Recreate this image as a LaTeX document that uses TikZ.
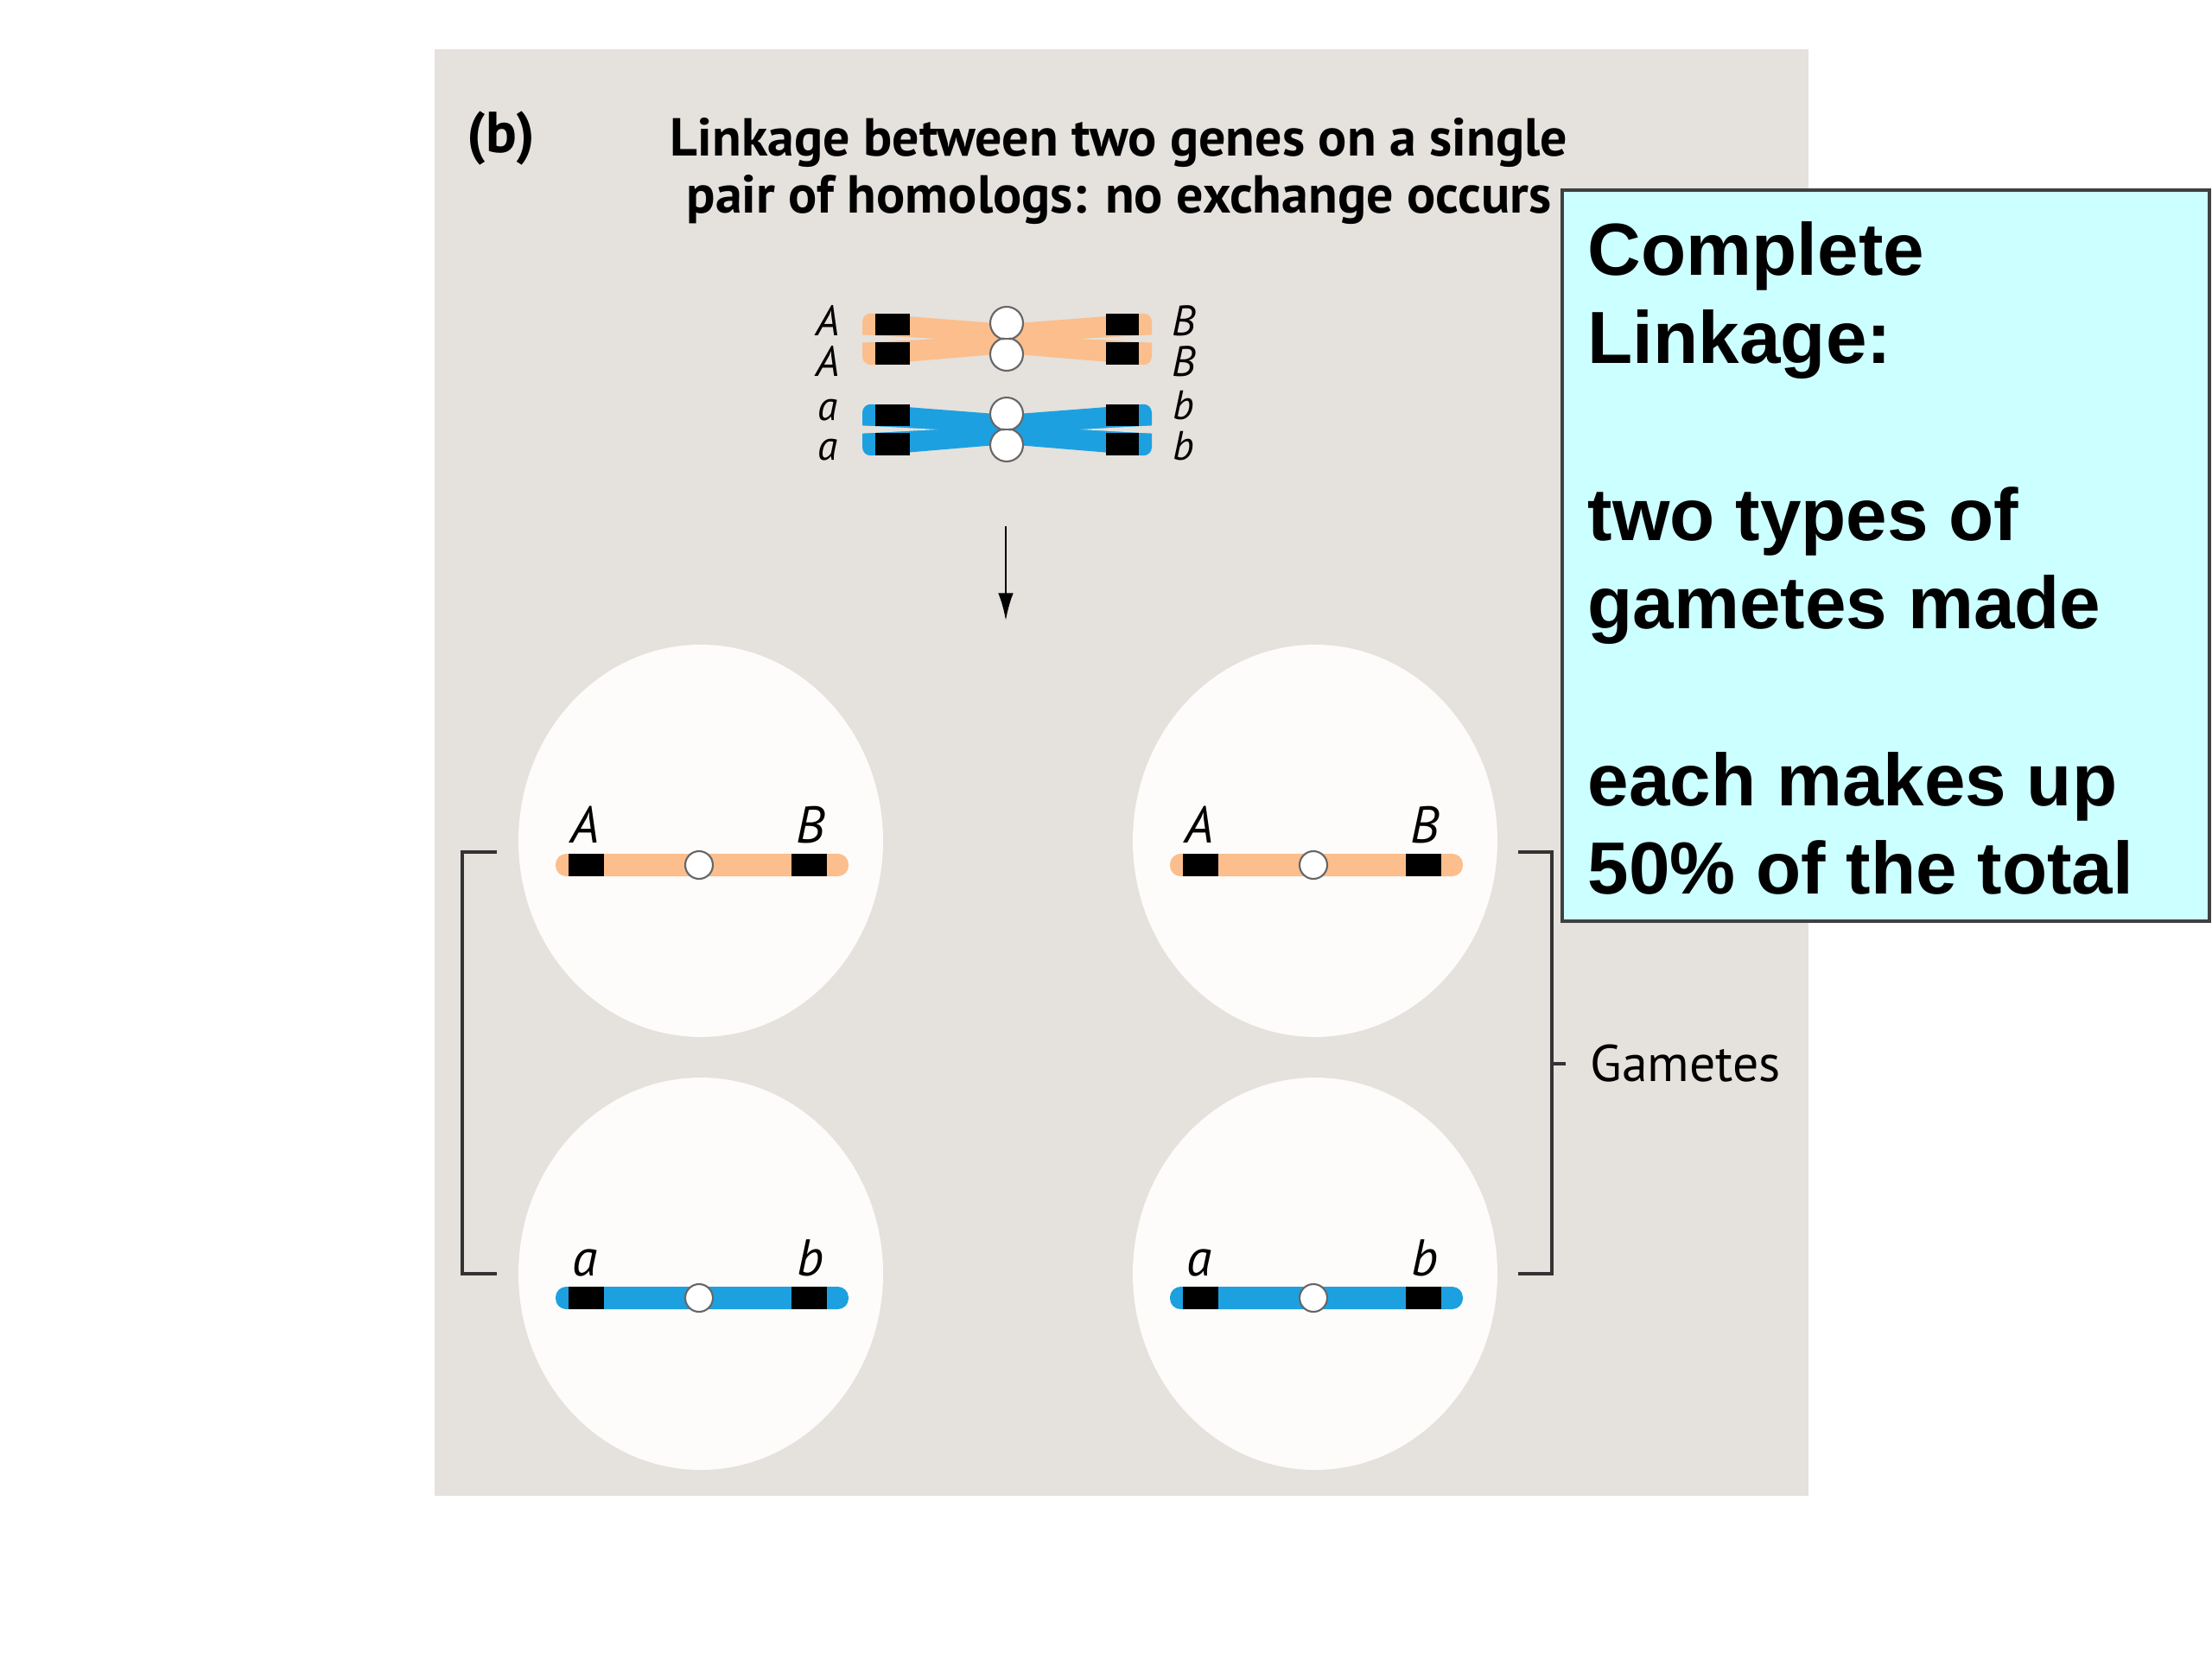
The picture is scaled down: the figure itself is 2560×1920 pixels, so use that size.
\documentclass[tikz,border=0pt]{standalone}
\usepackage{fontspec}
\setmainfont{PT Sans}
\newfontfamily\notefont{Liberation Sans}
\usetikzlibrary{arrows.meta}
\definecolor{panelgray}{RGB}{229,225,220}
\definecolor{cellwhite}{RGB}{253,252,250}
\definecolor{chromorange}{RGB}{251,190,140}
\definecolor{chromblue}{RGB}{29,160,224}
\definecolor{notecyan}{RGB}{204,255,255}

\begin{document}
\begin{tikzpicture}[x=0.01cm,y=-0.01cm,
    centro/.style={fill=white,draw=black!60,line width=0.6pt},
    genetop/.style={font=\fontsize{14}{13.4}\selectfont\itshape,inner sep=0pt,align=center,anchor=north},
    genecell/.style={font=\fontsize{17}{20}\selectfont\itshape,inner sep=0pt,anchor=base},
    bracketline/.style={line width=0.9pt,draw=black!80}]
\useasboundingbox (0,0) rectangle (2560,1920);

% panel
\fill[panelgray] (503,57) rectangle (2093,1731);
\node[font=\fontsize{19}{21}\selectfont\bfseries] (partlabel) at (580,160) {(b)};
\node[font=\fontsize{17.6}{18.6}\selectfont\bfseries, align=center, anchor=north, inner sep=0pt] (title) at (1295,136)
    {Linkage between two genes on a single\\pair of homologs: no exchange occurs};

% paired homologs
\foreach \yc/\col in {392/chromorange, 497/chromblue} {
    \fill[\col, rounded corners=3pt] (998,\yc-30) -- (1165,\yc-17) -- (1165,\yc+17) -- (998,\yc+31) -- cycle;
    \fill[\col, rounded corners=3pt] (1333,\yc-30) -- (1165,\yc-17) -- (1165,\yc+17) -- (1333,\yc+31) -- cycle;
    \fill[panelgray] (990,\yc-5) -- (1085,\yc) -- (990,\yc+5) -- cycle;
    \fill[panelgray] (1341,\yc-5) -- (1250,\yc) -- (1341,\yc+5) -- cycle;
    \fill[black] (1013,\yc-29) rectangle (1053,\yc-4);
    \fill[black] (1013,\yc+4) rectangle (1053,\yc+30);
    \fill[black] (1280,\yc-29) rectangle (1318,\yc-4);
    \fill[black] (1280,\yc+4) rectangle (1318,\yc+30);
    \filldraw[centro] (1165,\yc-18) circle (19) (1165,\yc+18) circle (19);
    \fill[white] (1165,\yc-18) circle (17) (1165,\yc+18) circle (17);
}
\node[genetop] (gAA) at (958,353) {A\\A};
\node[genetop, font=\fontsize{13.5}{13.2}\selectfont\itshape] (gaa) at (958,461) {a\\a};
\node[genetop] (gBB) at (1370,353) {B\\B};
\node[genetop, font=\fontsize{13.5}{13.2}\selectfont\itshape] (gbb) at (1370,452) {b\\b};

% meiosis arrow
\coordinate (arrowtop) at (1164,609);
\coordinate (arrowtip) at (1164,718);
\draw[-{Latex[length=9pt,width=5pt]}, line width=0.8pt] (arrowtop) -- (arrowtip);

% gametes
\foreach \cx/\cy/\col/\gl/\gr in {811/973/chromorange/A/B, 1522/973/chromorange/A/B, 811/1474/chromblue/a/b, 1522/1474/chromblue/a/b} {
    \fill[cellwhite] (\cx,\cy) ellipse [x radius=211, y radius=227];
    \fill[\col, rounded corners=3.5pt] (\cx-168,\cy+15) rectangle (\cx+171,\cy+41);
    \fill[black] (\cx-153,\cy+15) rectangle (\cx-112,\cy+41);
    \fill[black] (\cx+105,\cy+15) rectangle (\cx+146,\cy+41);
    \filldraw[centro] (\cx-2,\cy+28) circle (16);
    \node[genecell] at (\cx-134,\cy+2) {\gl};
    \node[genecell] at (\cx+127,\cy+2) {\gr};
}

% brackets
\draw[bracketline] (575,986) -- (535,986) -- (535,1474) -- (575,1474);
\draw[bracketline] (1757,986) -- (1796,986) -- (1796,1474) -- (1757,1474);
\coordinate (bracketmid) at (1796,1231);
\node[font=\fontsize{17}{20}\selectfont, anchor=west, inner sep=0pt] (gametes) at (1840,1231) {Gametes};
\draw[bracketline] (bracketmid) -- ++(16,0);

% note
\draw[fill=notecyan, draw=black!75, line width=1pt] (1808,220) rectangle (2557,1066);
\node[font=\notefont\bfseries\fontsize{24.3}{29.1}\selectfont, align=left, anchor=north west, inner sep=0pt] (note) at (1837,256)
    {Complete\\Linkage:\\[29.1pt]two types of\\gametes made\\[29.1pt]each makes up\\50\% of the total};
\end{tikzpicture}
\end{document}
